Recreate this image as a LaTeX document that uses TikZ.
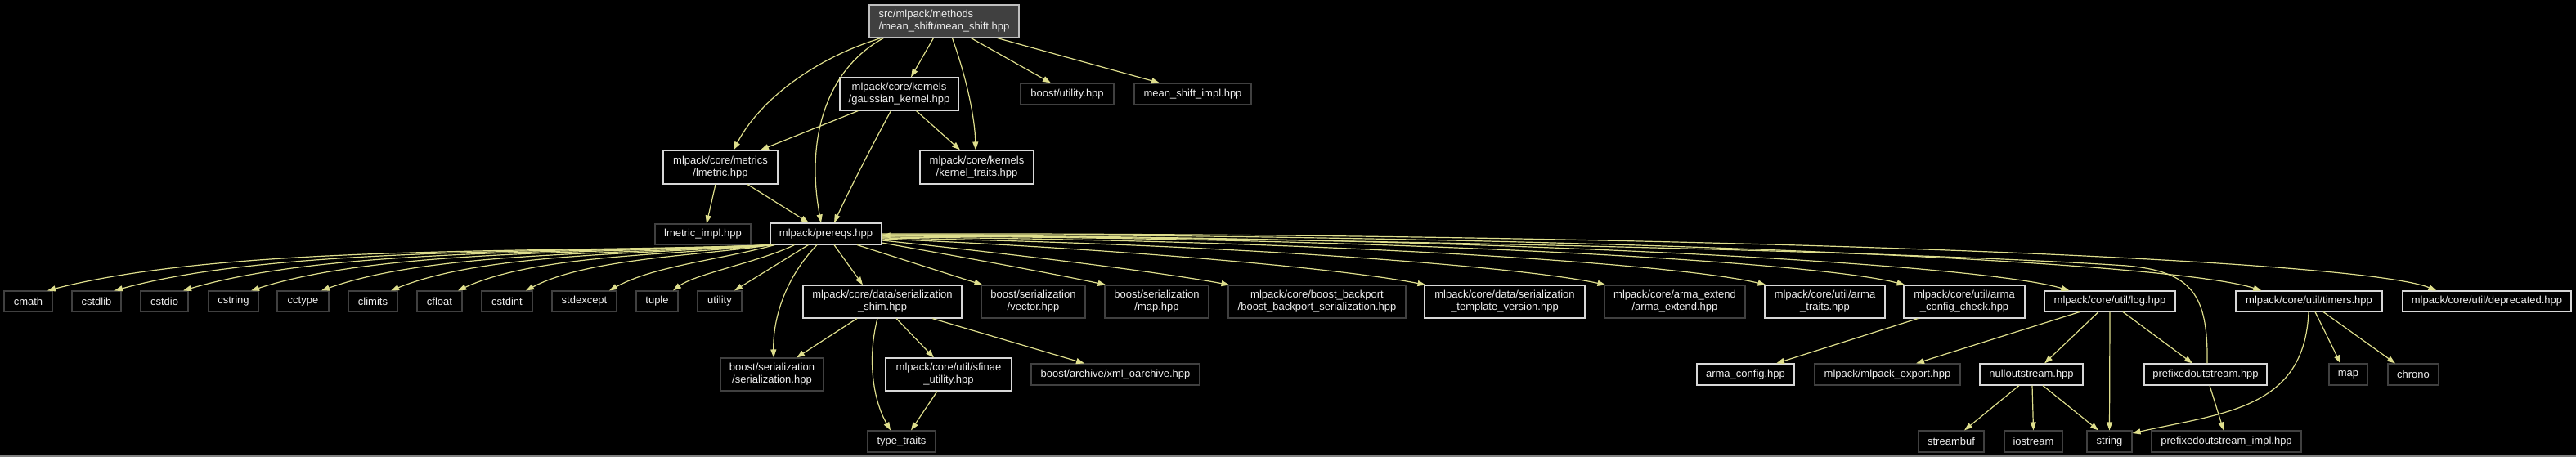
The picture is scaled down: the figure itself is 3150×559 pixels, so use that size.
\documentclass[tikz,border=0pt]{standalone}
\usepackage{fontspec}
\setmainfont{Liberation Sans}
\usetikzlibrary{arrows.meta}
\definecolor{edgec}{HTML}{DEDE8C}
\definecolor{nodewhite}{HTML}{D8D8D8}
\definecolor{nodegray}{HTML}{404040}
\definecolor{msfill}{HTML}{404040}
\definecolor{msdraw}{HTML}{BFBFBF}
\definecolor{txt}{HTML}{EEEEEE}
\definecolor{botline}{HTML}{808080}
\newcommand\fsz{\fontsize{13}{15}\selectfont}
\tikzset{
 nb/.style={draw=nodewhite, line width=1.1pt, fill=black, text=txt, inner sep=0pt, font=\fsz, align=center},
 ng/.style={nb, draw=nodegray},
 ed/.style={draw=edgec, line width=1.2pt, -{Triangle[length=10pt,width=7pt]}},
}
\begin{document}
\begin{tikzpicture}[x=1pt,y=-1pt]
\fill[black] (0,0) rectangle (3150,559);
\useasboundingbox (0,0) rectangle (3150,559);
\fill[botline] (0,556.5) rectangle (3150,559);
% nodes
\node[nb, fill=msfill, draw=msdraw, align=left, minimum width=183pt, minimum height=40pt] (ms) at (1154.5,26) {src/mlpack/methods\\/mean\_shift/mean\_shift.hpp};
\node[nb, minimum width=145pt, minimum height=40pt] (gk) at (1099.5,115) {mlpack/core/kernels\\/gaussian\_kernel.hpp};
\node[ng, minimum width=114pt, minimum height=26pt] (bu) at (1305,115) {boost/utility.hpp};
\node[ng, minimum width=143pt, minimum height=26pt] (msi) at (1458.5,115) {mean\_shift\_impl.hpp};
\node[nb, minimum width=140pt, minimum height=41pt] (lm) at (881,204.5) {mlpack/core/metrics\\/lmetric.hpp};
\node[nb, minimum width=139pt, minimum height=41pt] (kt) at (1194.5,204.5) {mlpack/core/kernels\\/kernel\_traits.hpp};
\node[ng, minimum width=117pt, minimum height=25pt] (lmi) at (859.5,286.5) {lmetric\_impl.hpp};
\node[nb, minimum width=136pt, minimum height=26pt] (pr) at (1010,286) {mlpack/prereqs.hpp};
% row 2
\node[ng, minimum width=59pt, minimum height=25pt] (cmath) at (34.5,368.5) {cmath};
\node[ng, minimum width=60pt, minimum height=25pt] (cstdlib) at (118,368.5) {cstdlib};
\node[ng, minimum width=58pt, minimum height=25pt] (cstdio) at (201,368.5) {cstdio};
\node[ng, minimum width=61pt, minimum height=25pt] (cstring) at (285.5,368.5) {cstring};
\node[ng, minimum width=63pt, minimum height=25pt] (cctype) at (370.5,368.5) {cctype};
\node[ng, minimum width=60pt, minimum height=25pt] (climits) at (456,368.5) {climits};
\node[ng, minimum width=55pt, minimum height=25pt] (cfloat) at (537.5,368.5) {cfloat};
\node[ng, minimum width=62pt, minimum height=25pt] (cstdint) at (620,368.5) {cstdint};
\node[ng, minimum width=79pt, minimum height=25pt] (stdexcept) at (714.5,368.5) {stdexcept};
\node[ng, minimum width=51pt, minimum height=25pt] (tuple) at (803.5,368.5) {tuple};
\node[ng, minimum width=54pt, minimum height=25pt] (utility) at (880,368.5) {utility};
\node[nb, minimum width=194pt, minimum height=40pt] (shim) at (1079,369) {mlpack/core/data/serialization\\\_shim.hpp};
\node[ng, minimum width=127pt, minimum height=40pt] (vector) at (1263.5,369) {boost/serialization\\/vector.hpp};
\node[ng, minimum width=127pt, minimum height=40pt] (maph) at (1414.5,369) {boost/serialization\\/map.hpp};
\node[ng, minimum width=217pt, minimum height=40pt] (bbp) at (1610.5,369) {mlpack/core/boost\_backport\\/boost\_backport\_serialization.hpp};
\node[nb, minimum width=196pt, minimum height=40pt] (tv) at (1840,369) {mlpack/core/data/serialization\\\_template\_version.hpp};
\node[ng, minimum width=172pt, minimum height=40pt] (ae) at (2048,369) {mlpack/core/arma\_extend\\/arma\_extend.hpp};
\node[nb, minimum width=147pt, minimum height=40pt] (at) at (2231.5,369) {mlpack/core/util/arma\\\_traits.hpp};
\node[nb, minimum width=148pt, minimum height=40pt] (acc) at (2402,369) {mlpack/core/util/arma\\\_config\_check.hpp};
\node[nb, minimum width=160pt, minimum height=25pt] (log) at (2580,368.5) {mlpack/core/util/log.hpp};
\node[nb, minimum width=179pt, minimum height=25pt] (timers) at (2823.5,368.5) {mlpack/core/util/timers.hpp};
\node[nb, minimum width=206pt, minimum height=25pt] (dep) at (3041,368.5) {mlpack/core/util/deprecated.hpp};
% row 3
\node[ng, minimum width=126pt, minimum height=40pt] (ser) at (944,458) {boost/serialization\\/serialization.hpp};
\node[nb, minimum width=154pt, minimum height=40pt] (sfinae) at (1160,458) {mlpack/core/util/sfinae\\\_utility.hpp};
\node[ng, minimum width=206pt, minimum height=26pt] (xml) at (1364,458) {boost/archive/xml\_oarchive.hpp};
\node[nb, minimum width=119pt, minimum height=26pt] (acfg) at (2134.5,458) {arma\_config.hpp};
\node[ng, minimum width=178pt, minimum height=26pt] (mexp) at (2308,458) {mlpack/mlpack\_export.hpp};
\node[nb, minimum width=126pt, minimum height=26pt] (null) at (2484,458) {nulloutstream.hpp};
\node[nb, minimum width=150pt, minimum height=26pt] (pfx) at (2697,458) {prefixedoutstream.hpp};
\node[ng, minimum width=47pt, minimum height=26pt] (map) at (2871.5,458) {map};
\node[ng, minimum width=62pt, minimum height=26pt] (chrono) at (2951,458) {chrono};
% row 4
\node[ng, minimum width=83pt, minimum height=26pt] (tt) at (1102.5,540) {type\_traits};
\node[ng, minimum width=80pt, minimum height=26pt] (streambuf) at (2386,540) {streambuf};
\node[ng, minimum width=71pt, minimum height=26pt] (iostream) at (2486.5,540) {iostream};
\node[ng, minimum width=55pt, minimum height=26pt] (string) at (2579.5,540) {string};
\node[ng, minimum width=183pt, minimum height=26pt] (pfximpl) at (2722.5,540) {prefixedoutstream\_impl.hpp};
% edges from mean_shift
\draw[ed] ([xshift=15pt]ms.south west) .. controls (1000,70) and (930,120) .. ([xshift=16pt]lm.north);
\draw[ed] ([xshift=18pt]ms.south west) .. controls (1010,85) and (985,170) .. ([xshift=-6pt]pr.north);
\draw[ed] ([xshift=79pt]ms.south west) -- ([xshift=14.5pt]gk.north);
\draw[ed] ([xshift=102pt]ms.south west) .. controls (1180,90) and (1192,140) .. ([xshift=-1.5pt]kt.north);
\draw[ed] ([xshift=125pt]ms.south west) -- ([xshift=-20pt]bu.north);
\draw[ed] ([xshift=157pt]ms.south west) -- ([xshift=-40.5pt]msi.north);
% gaussian kernel
\draw[ed] ([xshift=23pt]gk.south west) -- ([xshift=49pt]lm.north);
\draw[ed] ([xshift=63pt]gk.south west) .. controls (1060,190) and (1035,240) .. ([xshift=10pt]pr.north);
\draw[ed] ([xshift=94pt]gk.south west) -- ([xshift=-20.5pt]kt.north);
% lmetric
\draw[ed] ([xshift=-6pt]lm.south) -- ([xshift=4.5pt]lmi.north);
\draw[ed] ([xshift=33pt]lm.south) -- ([xshift=-21pt]pr.north);
% prereqs, left row
\draw[ed] ([xshift=2pt]pr.south west) .. controls (678,310) and (280,298) .. ([xshift=23.5pt]cmath.north);
\draw[ed] ([xshift=2pt]pr.south west) .. controls (703,310) and (341,300) .. ([xshift=22pt]cstdlib.north);
\draw[ed] ([xshift=2pt]pr.south west) .. controls (728,310) and (404,302) .. ([xshift=23pt]cstdio.north);
\draw[ed] ([xshift=2pt]pr.south west) .. controls (753,310) and (466,304) .. ([xshift=21.5pt]cstring.north);
\draw[ed] ([xshift=2pt]pr.south west) .. controls (779,311) and (531,306) .. ([xshift=22.5pt]cctype.north);
\draw[ed] ([xshift=2pt]pr.south west) .. controls (804,311) and (595,308) .. ([xshift=22pt]climits.north);
\draw[ed] ([xshift=2pt]pr.south west) .. controls (829,312) and (656,311) .. ([xshift=22.5pt]cfloat.north);
\draw[ed] ([xshift=2pt]pr.south west) .. controls (854,313) and (718,316) .. ([xshift=23pt]cstdint.north);
\draw[ed] ([xshift=6pt]pr.south west) .. controls (880,318) and (800,325) .. ([xshift=30.5pt]stdexcept.north);
\draw[ed] ([xshift=30pt]pr.south west) .. controls (930,320) and (850,335) .. ([xshift=19.5pt]tuple.north);
\draw[ed] ([xshift=47pt]pr.south west) -- ([xshift=18pt]utility.north);
% prereqs, lower
\draw[ed] ([xshift=-11pt]pr.south) .. controls (960,340) and (945,390) .. ([xshift=2pt]ser.north);
\draw[ed] ([xshift=10pt]pr.south) -- ([xshift=-24pt]shim.north);
\draw[ed] ([xshift=38pt]pr.south) -- ([xshift=2pt]vector.north west);
\draw[ed] ([yshift=-11pt]pr.east) .. controls (1180,315) and (1290,335) .. ([xshift=2pt]maph.north west);
\draw[ed] ([yshift=-8pt]pr.east) .. controls (1250,312) and (1420,333) .. ([xshift=2pt]bbp.north west);
\draw[ed] ([yshift=-6pt]pr.east) .. controls (1400,306) and (1650,330) .. ([xshift=2pt]tv.north west);
\draw[ed] ([yshift=-5pt]pr.east) .. controls (1500,298) and (1860,326) .. ([xshift=2pt]ae.north west);
\draw[ed] ([yshift=-4pt]pr.east) .. controls (1600,293) and (2050,322) .. ([xshift=2pt]at.north west);
\draw[ed] ([yshift=-3pt]pr.east) .. controls (1700,290) and (2220,320) .. ([xshift=2pt]acc.north west);
\draw[ed] ([yshift=-2pt]pr.east) .. controls (1800,288) and (2420,322) .. ([xshift=31pt]log.north west);
\draw[ed] ([yshift=-1pt]pr.east) .. controls (1900,286) and (2650,318) .. ([xshift=32pt]timers.north west);
\draw[ed] (pr.east) .. controls (2000,284) and (2880,315) .. ([xshift=42pt]dep.north west);
\coordinate (pfxbend) at (2600,325);
\draw[ed] ([xshift=2pt]pfx.north) .. controls (2700,362) and (2682,332) .. (pfxbend) .. controls (2300,305) and (1500,290) .. ([yshift=-2pt]pr.east);
% shim
\draw[ed] ([xshift=-31pt]shim.south) -- ([xshift=30pt]ser.north);
\draw[ed] ([xshift=-6pt]shim.south) .. controls (1060,440) and (1068,490) .. ([xshift=-13.5pt]tt.north);
\draw[ed] ([xshift=17pt]shim.south) -- ([xshift=-18pt]sfinae.north);
\draw[ed] ([xshift=61pt]shim.south) -- ([xshift=-38pt]xml.north);
\draw[ed] ([xshift=-14pt]sfinae.south) -- ([xshift=11.5pt]tt.north);
% arma config check
\draw[ed] ([xshift=18pt]acc.south west) -- ([xshift=37.5pt]acfg.north);
% log
\draw[ed] ([xshift=-37pt]log.south) -- ([xshift=35pt]mexp.north);
\draw[ed] ([xshift=-14pt]log.south) -- ([xshift=16pt]null.north);
\draw[ed] (log.south) -- (string.north);
\draw[ed] ([xshift=16pt]log.south) -- ([xshift=-16pt]pfx.north);
% nulloutstream
\draw[ed] ([xshift=-15pt]null.south) -- ([xshift=16pt]streambuf.north);
\draw[ed] ([xshift=1pt]null.south) -- (iostream.north);
\draw[ed] ([xshift=14pt]null.south) -- ([xshift=-13.5pt]string.north);
% prefixedoutstream
\draw[ed] ([xshift=5pt]pfx.south) -- ([xshift=-3.5pt]pfximpl.north);
% timers
\draw[ed] ([xshift=-0.5pt]timers.south) .. controls (2818,500) and (2720,505) .. ([yshift=10pt]string.east);
\draw[ed] ([xshift=7.5pt]timers.south) -- ([xshift=-9.5pt]map.north);
\draw[ed] ([xshift=17.5pt]timers.south) -- ([xshift=-22pt]chrono.north);
\end{tikzpicture}
\end{document}
